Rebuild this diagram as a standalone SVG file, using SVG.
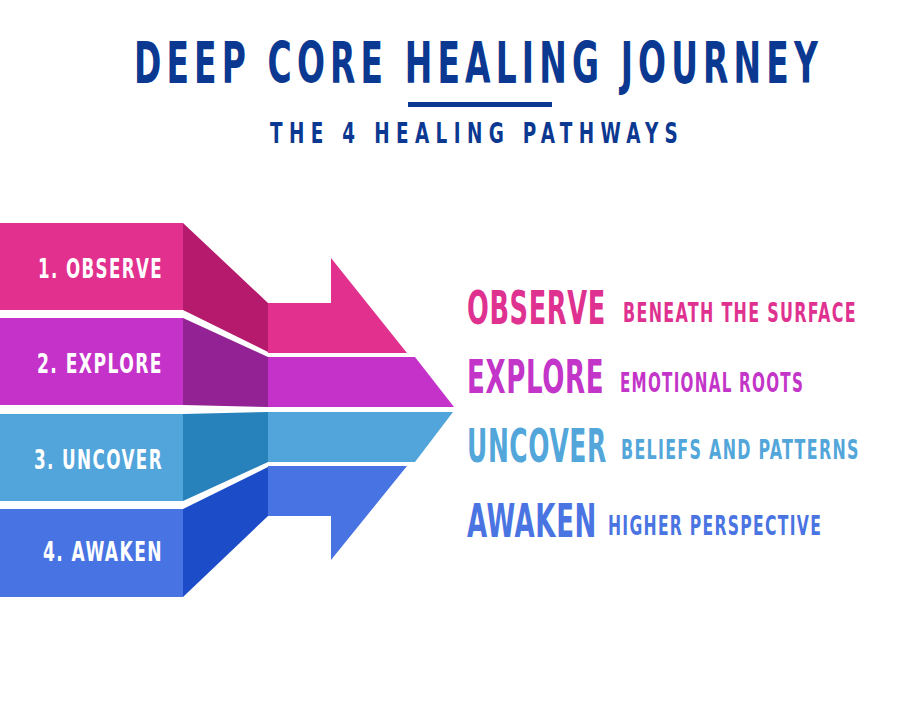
<svg xmlns="http://www.w3.org/2000/svg" width="900" height="720" viewBox="0 0 900 720">
<style>
.f{font-family:"DejaVu Sans Condensed","Liberation Sans Narrow","Liberation Sans",sans-serif;font-weight:bold;}
.title{fill:#0B3891;}
.lab{fill:#ffffff;font-size:27px;letter-spacing:2px;}
.big{font-size:46px;letter-spacing:1px;}
.small{font-size:27px;letter-spacing:2px;}
.c1{fill:#E2308F;} .d1{fill:#B51A6D;}
.c2{fill:#C432C9;} .d2{fill:#932395;}
.c3{fill:#52A5DB;} .d3{fill:#2782BC;}
.c4{fill:#4874E3;} .d4{fill:#1C4CC7;}
.t1{fill:#DF3290;} .t2{fill:#C335C8;} .t3{fill:#52A6DA;} .t4{fill:#4A74E2;}
</style>
<rect width="900" height="720" fill="#ffffff"/>
<g id="header">
<text class="f title" transform="translate(134,83) scale(0.642,1)" x="0" y="0" font-size="57" letter-spacing="8" textLength="1073" lengthAdjust="spacingAndGlyphs">DEEP CORE HEALING JOURNEY</text>
<rect x="408" y="102" width="144" height="5" class="title"/>
<text class="f title" transform="translate(270,143) scale(0.695,1)" x="0" y="0" font-size="29" letter-spacing="9" textLength="596" lengthAdjust="spacingAndGlyphs">THE 4 HEALING PATHWAYS</text>
</g>
<g id="observe">
<rect class="c1" x="0" y="223" width="183" height="87"/>
<polygon class="d1" points="183,223 268,303 268,352 183,310"/>
<polygon class="c1" points="268,303 331,303 331,258 407,353 268,353"/>
<text class="f lab" transform="translate(38,278) scale(0.687,1)" x="0" y="0" textLength="182" lengthAdjust="spacingAndGlyphs">1. OBSERVE</text>
<text class="f big t1" transform="translate(467,324) scale(0.62,1)" x="0" y="0" textLength="224" lengthAdjust="spacingAndGlyphs">OBSERVE</text>
<text class="f small t1" transform="translate(623,322) scale(0.646,1)" x="0" y="0" textLength="362" lengthAdjust="spacingAndGlyphs">BENEATH THE SURFACE</text>
</g>
<g id="explore">
<rect class="c2" x="0" y="318" width="183" height="87"/>
<polygon class="d2" points="183,318 268,357 268,407 183,405"/>
<polygon class="c2" points="268,357 415,357 454,407 268,407"/>
<text class="f lab" transform="translate(37,373) scale(0.704,1)" x="0" y="0" textLength="179" lengthAdjust="spacingAndGlyphs">2. EXPLORE</text>
<text class="f big t2" transform="translate(467,393) scale(0.626,1)" x="0" y="0" textLength="219" lengthAdjust="spacingAndGlyphs">EXPLORE</text>
<text class="f small t2" transform="translate(620,392) scale(0.624,1)" x="0" y="0" textLength="295" lengthAdjust="spacingAndGlyphs">EMOTIONAL ROOTS</text>
</g>
<g id="uncover">
<rect class="c3" x="0" y="414" width="183" height="87"/>
<polygon class="d3" points="183,414 268,412 268,462 183,501"/>
<polygon class="c3" points="268,412 453,412 415,462 268,462"/>
<text class="f lab" transform="translate(34,469) scale(0.69,1)" x="0" y="0" textLength="187" lengthAdjust="spacingAndGlyphs">3. UNCOVER</text>
<text class="f big t3" transform="translate(467,462) scale(0.60,1)" x="0" y="0" textLength="233" lengthAdjust="spacingAndGlyphs">UNCOVER</text>
<text class="f small t3" transform="translate(621,459) scale(0.647,1)" x="0" y="0" textLength="369" lengthAdjust="spacingAndGlyphs">BELIEFS AND PATTERNS</text>
</g>
<g id="awaken">
<rect class="c4" x="0" y="509" width="183" height="88"/>
<polygon class="d4" points="183,509 268,467 268,516 183,597"/>
<polygon class="c4" points="268,466 407,466 331,560 331,516 268,516"/>
<text class="f lab" transform="translate(43,561) scale(0.694,1)" x="0" y="0" textLength="173" lengthAdjust="spacingAndGlyphs">4. AWAKEN</text>
<text class="f big t4" transform="translate(467,537) scale(0.616,1)" x="0" y="0" textLength="211" lengthAdjust="spacingAndGlyphs">AWAKEN</text>
<text class="f small t4" transform="translate(608,535) scale(0.643,1)" x="0" y="0" textLength="333" lengthAdjust="spacingAndGlyphs">HIGHER PERSPECTIVE</text>
</g>
<g id="connectors"/>
</svg>
